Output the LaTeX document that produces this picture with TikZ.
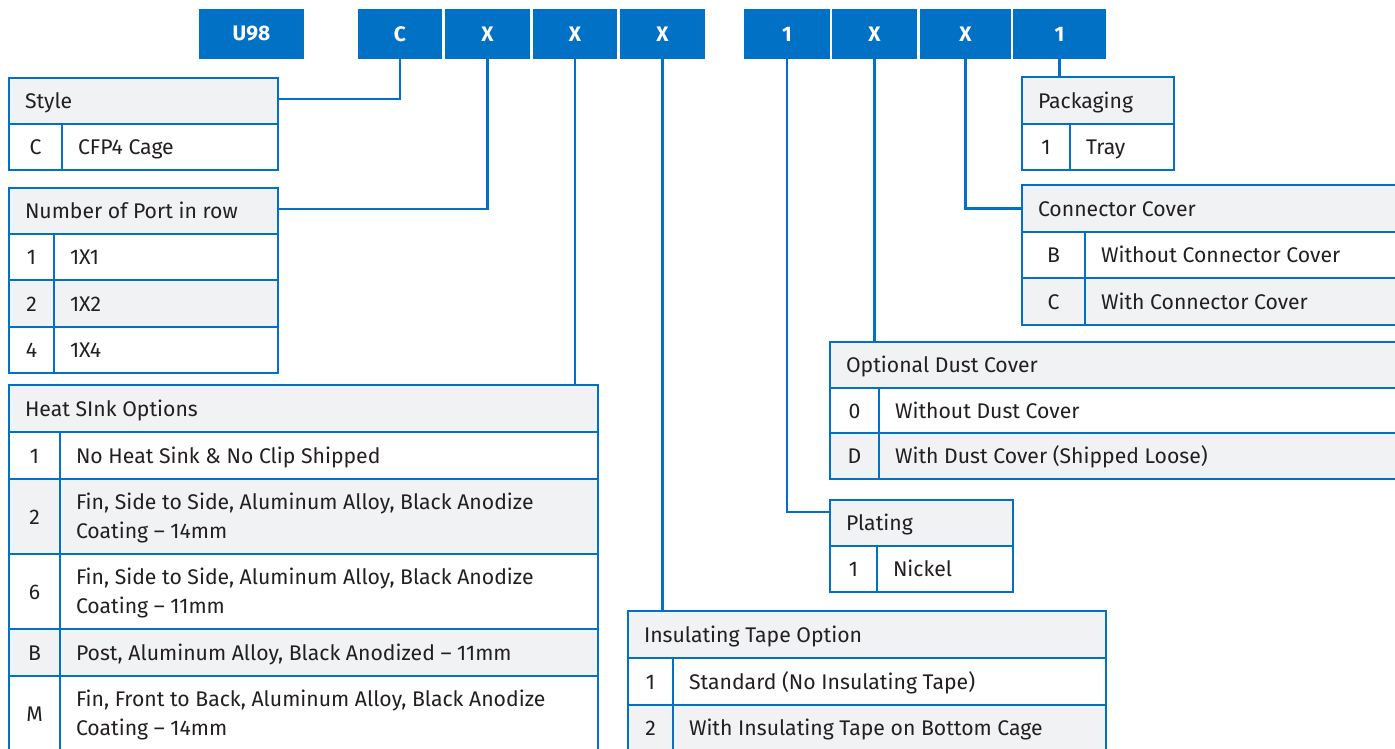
\documentclass[tikz,border=0pt]{standalone}
\usepackage{fontspec}
\setmainfont{Fira Sans}[UprightFont={* Regular}, BoldFont={* Bold}]
\definecolor{iblue}{HTML}{0071C5}
\definecolor{hgray}{HTML}{F1F2F4}
\definecolor{tcol}{HTML}{231F20}
\tikzset{
  cell/.style={draw=iblue, line width=2.2pt, inner sep=0pt, outer sep=0pt, anchor=north west},
  topbox/.style={fill=iblue, inner sep=0pt, outer sep=0pt, anchor=north west, text=white,
     font=\fontsize{21}{24}\selectfont\bfseries, minimum height=50pt},
  txt/.style={inner sep=0pt, outer sep=0pt, anchor=base west, text=tcol, font=\fontsize{21.2}{24}\selectfont},
  ctxt/.style={txt, anchor=base},
  conn/.style={draw=iblue, line width=2.4pt},
}
% header: name x0 x1 y0 y1 text
\newcommand\hdr[6]{%
  \node[cell, fill=hgray, minimum width={#3-#2}, minimum height={#5-#4}] (#1) at (#2,#4) {};
  \node[txt] (#1-t) at (#2+16,{(#4+#5)/2+7.5}) {#6};}
% option row: name fill x0 xd x1 y0 y1 code desc
\newcommand\orow[9]{%
  \node[cell, fill=#2, minimum width={#5-#3}, minimum height={#7-#6}] (#1) at (#3,#6) {};
  \draw[iblue, line width=2.2pt] (#4,#6) -- (#4,#7);
  \node[ctxt] (#1-c) at ({(#3+#4)/2},{(#6+#7)/2+7.5}) {#8};
  \node[txt] (#1-d) at (#4+16,{(#6+#7)/2+7.5}) {#9};}
% second line of a two-line row: name x y-center text
\newcommand\orowii[4]{%
  \node[txt] (#1) at (#2+16,{#3+7.5+29}) {#4};}
\newcommand\orowtwo[9]{%
  \node[cell, fill=#2, minimum width={#5-#3}, minimum height={#7-#6}] (#1) at (#3,#6) {};
  \draw[iblue, line width=2.2pt] (#4,#6) -- (#4,#7);
  \node[ctxt] (#1-c) at ({(#3+#4)/2},{(#6+#7)/2+7.5}) {#8};
  \node[txt] (#1-d) at (#4+16,{(#6+#7)/2+7.5-14.5}) {#9};}
\begin{document}
\begin{tikzpicture}[x=1pt,y=-1pt]
\path[use as bounding box] (0,0) rectangle (1395,748);
\clip (0,0) rectangle (1395,748);
\fill[white] (0,0) rectangle (1395,748);

% top code boxes
\node[topbox, minimum width=105pt] (bU) at (199,9) {U98};
\node[topbox, minimum width=84pt] (bC) at (358,9) {C};
\node[topbox, minimum width=85pt] (bX1) at (445,9) {X};
\node[topbox, minimum width=84pt] (bX2) at (533,9) {X};
\node[topbox, minimum width=85pt] (bX3) at (620,9) {X};
\node[topbox, minimum width=86pt] (b1) at (744,9) {1};
\node[topbox, minimum width=85pt] (bX4) at (832,9) {X};
\node[topbox, minimum width=91pt] (bX5) at (920,9) {X};
\node[topbox, minimum width=93pt] (b2) at (1013,9) {1};

% Style
\hdr{style}{9}{278}{78}{124}{Style}
\orow{styleC}{white}{9}{62}{278}{124}{170}{C}{CFP4 Cage}

% Number of Port in row
\hdr{port}{9}{278}{188}{234}{Number of Port in row}
\orow{port1}{white}{9}{54}{278}{234}{280}{1}{1X1}
\orow{port2}{hgray}{9}{54}{278}{280}{327}{2}{1X2}
\orow{port4}{white}{9}{54}{278}{327}{373}{4}{1X4}

% Heat Sink
\hdr{heat}{9}{598}{385}{432}{Heat SInk Options}
\orow{heat1}{white}{9}{60}{598}{432}{479}{1}{No Heat Sink \& No Clip Shipped}
\orowtwo{heat2}{hgray}{9}{60}{598}{479}{554}{2}{Fin, Side to Side, Aluminum Alloy, Black Anodize}
\orowii{heat2-e}{60}{502}{Coating – 14mm}
\orowtwo{heat6}{white}{9}{60}{598}{554}{629}{6}{Fin, Side to Side, Aluminum Alloy, Black Anodize}
\orowii{heat6-e}{60}{577}{Coating – 11mm}
\orow{heatB}{hgray}{9}{60}{598}{629}{676}{B}{Post, Aluminum Alloy, Black Anodized – 11mm}
\orowtwo{heatM}{white}{9}{60}{598}{676}{751}{M}{Fin, Front to Back, Aluminum Alloy, Black Anodize}
\orowii{heatM-e}{60}{699}{Coating – 14mm}

% Insulating Tape
\hdr{tape}{628}{1106}{611}{658}{Insulating Tape Option}
\orow{tape1}{white}{628}{673}{1106}{658}{705}{1}{Standard (No Insulating Tape)}
\orow{tape2}{hgray}{628}{673}{1106}{705}{751}{2}{With Insulating Tape on Bottom Cage}

% Packaging
\hdr{pack}{1022}{1174}{77}{124}{Packaging}
\orow{pack1}{white}{1022}{1070}{1174}{124}{170}{1}{Tray}

% Connector Cover
\hdr{ccov}{1022}{1402}{185}{232}{Connector Cover}
\orow{ccovB}{white}{1022}{1085}{1402}{232}{278}{B}{Without Connector Cover}
\orow{ccovC}{hgray}{1022}{1085}{1402}{278}{325}{C}{With Connector Cover}

% Optional Dust Cover
\hdr{dust}{830}{1402}{342}{388}{Optional Dust Cover}
\orow{dust0}{white}{830}{879}{1402}{388}{433}{0}{Without Dust Cover}
\orow{dustD}{hgray}{830}{879}{1402}{433}{479}{D}{With Dust Cover (Shipped Loose)}

% Plating
\hdr{plat}{830}{1013}{500}{546}{Plating}
\orow{plat1}{white}{830}{877}{1013}{546}{592}{1}{Nickel}

% connectors
\draw[conn] (bC.south) |- ([yshift=2pt]style.east);
\draw[conn] (bX1.south) |- ([yshift=2pt]port.east);
\draw[conn] (bX2.south) -- (bX2.south |- heat.north);
\draw[conn] (bX3.south) -- (bX3.south |- tape.north);
\draw[conn] (b1.south) |- ([yshift=11pt]plat.west);
\draw[conn] (bX4.south) -- (bX4.south |- dust.north);
\draw[conn] (bX5.south) |- (ccov.west);
\draw[conn] (b2.south) -- (b2.south |- pack.north);
\end{tikzpicture}
\end{document}
